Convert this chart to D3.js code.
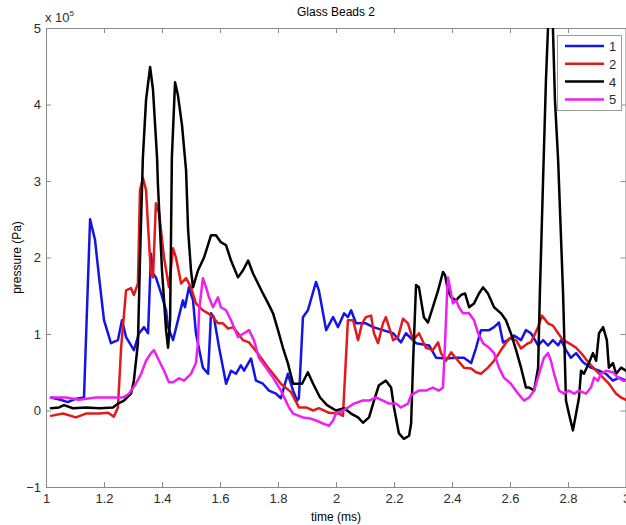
<!DOCTYPE html>
<html>
<head>
<meta charset="utf-8">
<script src="https://cdn.jsdelivr.net/npm/d3@7/dist/d3.min.js"></script>
<style>
  html, body { margin: 0; padding: 0; background: #fff; }
  svg { display: block; font-family: "Liberation Sans", Arial, sans-serif; }
</style>
</head>
<body>
<svg id="chart" width="626" height="525"></svg>
<script>
// Pressure traces from four gauges, time in ms, pressure in units of 1e5 Pa
const series1 = [
  [1.017,0.17],[1.05,0.14],[1.075,0.11],[1.1,0.15],[1.131,0.17],[1.152,2.50],[1.169,2.23],[1.183,1.74],
  [1.200,1.18],[1.224,0.88],[1.248,0.92],[1.262,1.18],[1.276,0.96],[1.303,0.79],[1.321,1.01],[1.338,1.09],
  [1.352,1.01],[1.362,2.05],[1.369,1.79],[1.379,1.74],[1.397,1.53],[1.414,1.31],[1.421,1.09],[1.438,0.92],
  [1.472,1.44],[1.479,1.35],[1.493,1.61],[1.507,1.44],[1.517,1.01],[1.541,0.56],[1.559,0.48],[1.569,1.27],
  [1.579,1.22],[1.597,0.82],[1.621,0.35],[1.638,0.52],[1.655,0.48],[1.672,0.59],[1.683,0.52],[1.707,0.68],
  [1.724,0.39],[1.748,0.35],[1.769,0.26],[1.793,0.22],[1.810,0.16],[1.824,0.35],[1.834,0.48],[1.852,0.26],
  [1.866,0.13],[1.872,0.16],[1.886,1.22],[1.903,1.31],[1.931,1.68],[1.941,1.57],[1.966,1.05],[1.990,1.22],
  [2.007,1.09],[2.028,1.27],[2.041,1.22],[2.052,1.31],[2.069,1.14],[2.103,1.14],[2.128,1.09],[2.162,1.05],
  [2.197,1.01],[2.224,0.89],[2.241,1.01],[2.276,0.88],[2.321,0.85],[2.345,0.69],[2.379,0.68],[2.414,0.69],
  [2.441,0.69],[2.466,0.62],[2.483,0.82],[2.500,1.05],[2.528,1.05],[2.545,1.09],[2.562,1.15],[2.576,0.89],
  [2.593,0.92],[2.614,0.98],[2.638,0.92],[2.655,1.05],[2.672,1.01],[2.697,0.85],[2.714,0.92],[2.731,0.85],
  [2.748,0.92],[2.766,0.85],[2.776,0.92],[2.793,0.79],[2.810,0.69],[2.828,0.75],[2.852,0.63],[2.879,0.56],
  [2.907,0.52],[2.931,0.48],[2.955,0.39],[2.976,0.43],[3.000,0.39]
];

const series2 = [
  [1.017,-0.07],[1.059,-0.04],[1.103,-0.09],[1.138,-0.04],[1.183,-0.04],[1.214,-0.03],[1.234,-0.08],
  [1.248,0.04],[1.259,0.82],[1.276,1.57],[1.293,1.60],[1.303,1.51],[1.317,1.66],[1.324,2.88],[1.334,3.04],
  [1.345,2.88],[1.352,2.40],[1.362,1.79],[1.369,1.74],[1.379,2.71],[1.390,2.58],[1.407,2.00],[1.424,1.61],
  [1.438,2.12],[1.448,2.00],[1.466,1.66],[1.483,1.73],[1.500,1.61],[1.517,1.40],[1.541,1.31],[1.559,1.27],
  [1.576,1.22],[1.593,1.14],[1.610,1.14],[1.628,1.07],[1.645,1.09],[1.662,1.01],[1.679,0.92],[1.700,0.89],
  [1.717,0.81],[1.741,0.69],[1.766,0.56],[1.783,0.48],[1.810,0.35],[1.845,0.24],[1.872,0.04],[1.897,0.04],
  [1.921,0.00],[1.941,0.03],[1.976,-0.03],[2.010,-0.04],[2.024,-0.07],[2.041,1.18],[2.059,1.18],[2.076,0.92],
  [2.090,1.14],[2.103,1.22],[2.121,1.24],[2.131,1.01],[2.145,0.88],[2.162,1.14],[2.172,1.22],[2.197,0.92],
  [2.214,0.96],[2.231,1.20],[2.248,1.14],[2.266,0.92],[2.286,1.01],[2.310,0.82],[2.334,0.79],[2.352,0.89],
  [2.362,0.75],[2.379,0.65],[2.397,0.76],[2.421,0.65],[2.441,0.56],[2.466,0.55],[2.483,0.50],[2.500,0.48],
  [2.524,0.56],[2.545,0.65],[2.569,0.79],[2.597,0.94],[2.621,0.92],[2.638,0.81],[2.662,0.88],[2.672,0.89],
  [2.697,1.09],[2.710,1.24],[2.731,1.14],[2.748,1.11],[2.766,1.01],[2.783,0.92],[2.803,0.88],[2.828,0.82],
  [2.852,0.72],[2.872,0.62],[2.897,0.52],[2.921,0.43],[2.941,0.35],[2.966,0.22],[2.983,0.17],[3.000,0.14]
];

const series4 = [
  [1.017,0.03],[1.045,0.04],[1.062,0.07],[1.093,0.03],[1.138,0.04],[1.183,0.03],[1.231,0.04],[1.248,0.09],
  [1.269,0.13],[1.293,0.22],[1.303,0.39],[1.317,0.88],[1.324,1.96],[1.334,3.30],[1.345,4.06],[1.359,4.49],
  [1.369,4.19],[1.383,3.30],[1.386,2.95],[1.400,1.83],[1.414,1.05],[1.421,0.82],[1.428,1.18],[1.434,3.30],
  [1.445,4.29],[1.455,4.12],[1.469,3.73],[1.483,3.14],[1.490,2.36],[1.500,1.83],[1.507,1.61],[1.524,1.83],
  [1.545,2.00],[1.569,2.29],[1.586,2.29],[1.603,2.20],[1.621,2.16],[1.638,1.96],[1.662,1.74],[1.679,1.83],
  [1.697,1.96],[1.714,1.79],[1.731,1.66],[1.748,1.53],[1.766,1.40],[1.783,1.27],[1.800,1.05],[1.817,0.82],
  [1.834,0.62],[1.852,0.35],[1.883,0.35],[1.903,0.50],[1.921,0.35],[1.945,0.17],[1.969,0.07],[2.000,0.00],
  [2.028,0.03],[2.052,-0.04],[2.076,-0.09],[2.093,-0.16],[2.114,-0.09],[2.131,0.13],[2.148,0.33],[2.172,0.39],
  [2.190,0.30],[2.200,0.04],[2.217,-0.30],[2.234,-0.37],[2.252,-0.33],[2.259,-0.17],[2.266,0.65],[2.276,1.64],
  [2.286,1.61],[2.303,1.22],[2.317,1.15],[2.334,1.35],[2.352,1.57],[2.369,1.81],[2.376,1.77],[2.386,1.57],
  [2.397,1.48],[2.414,1.44],[2.431,1.51],[2.445,1.53],[2.459,1.35],[2.476,1.40],[2.493,1.53],[2.507,1.61],
  [2.524,1.53],[2.545,1.35],[2.569,1.27],[2.586,1.18],[2.603,1.01],[2.621,0.79],[2.638,0.56],[2.655,0.30],
  [2.666,0.30],[2.683,0.26],[2.697,0.56],[2.703,1.53],[2.714,3.01],[2.724,4.32],[2.731,5.00],[2.740,5.40],
  [2.748,5.00],[2.755,4.06],[2.766,3.27],[2.783,1.53],[2.793,0.13],[2.803,-0.04],[2.817,-0.26],[2.828,-0.04],
  [2.838,0.17],[2.845,0.52],[2.855,0.48],[2.872,0.62],[2.886,0.75],[2.897,0.65],[2.907,1.01],[2.921,1.09],
  [2.934,0.92],[2.941,0.56],[2.955,0.62],[2.966,0.48],[2.983,0.56],[3.000,0.52]
];

const series5 = [
  [1.017,0.17],[1.069,0.17],[1.114,0.14],[1.172,0.17],[1.231,0.17],[1.266,0.17],[1.286,0.22],[1.310,0.35],
  [1.328,0.48],[1.345,0.65],[1.362,0.75],[1.372,0.79],[1.390,0.65],[1.407,0.52],[1.424,0.37],[1.438,0.37],
  [1.459,0.42],[1.476,0.39],[1.500,0.48],[1.517,0.62],[1.524,0.88],[1.528,1.31],[1.541,1.73],[1.552,1.61],
  [1.562,1.48],[1.576,1.35],[1.593,1.48],[1.603,1.35],[1.621,1.31],[1.638,1.18],[1.662,0.96],[1.683,1.01],
  [1.700,1.05],[1.717,0.92],[1.734,0.69],[1.759,0.56],[1.783,0.43],[1.810,0.26],[1.838,0.04],[1.852,-0.04],
  [1.886,-0.09],[1.907,-0.10],[1.931,-0.13],[1.955,-0.17],[1.976,-0.20],[1.990,-0.13],[2.000,-0.04],
  [2.024,0.00],[2.041,0.04],[2.062,0.09],[2.093,0.13],[2.114,0.13],[2.138,0.17],[2.162,0.13],[2.183,0.09],
  [2.207,0.09],[2.224,0.04],[2.248,0.09],[2.259,0.20],[2.286,0.26],[2.310,0.26],[2.334,0.30],[2.355,0.26],
  [2.369,0.30],[2.376,0.88],[2.383,1.53],[2.386,1.74],[2.393,1.61],[2.403,1.40],[2.414,1.44],[2.424,1.35],
  [2.438,1.27],[2.459,1.27],[2.476,1.18],[2.490,1.01],[2.507,0.88],[2.528,0.82],[2.545,0.75],[2.562,0.56],
  [2.579,0.43],[2.603,0.35],[2.628,0.22],[2.648,0.13],[2.666,0.17],[2.683,0.26],[2.700,0.48],[2.717,0.69],
  [2.731,0.75],[2.741,0.65],[2.752,0.48],[2.769,0.26],[2.786,0.22],[2.803,0.26],[2.821,0.22],[2.838,0.26],
  [2.862,0.22],[2.879,0.30],[2.890,0.43],[2.903,0.39],[2.914,0.48],[2.931,0.52],[2.955,0.50],[2.972,0.43],
  [2.990,0.39],[3.000,0.39]
];

const seriesNames = ["1", "2", "4", "5"];
const seriesColors = ["#1414e6", "#e41a1a", "#000000", "#f01ef0"];
const seriesData = [series1, series2, series4, series5];

const xTicks = [1, 1.2, 1.4, 1.6, 1.8, 2, 2.2, 2.4, 2.6, 2.8, 3];
const yTicks = [-1, 0, 1, 2, 3, 4, 5];

const chartTitle = "Glass Beads 2";
const xLabel = "time (ms)";
const yLabel = "pressure (Pa)";

const svg = d3.select("#chart");
const plot = { left: 46, right: 626, top: 28, bottom: 487 };

const x = d3.scaleLinear().domain([1, 3]).range([plot.left, plot.right]);
const y = d3.scaleLinear().domain([-1, 5]).range([plot.bottom, plot.top]);

const axisColor = "#8a8a8a";
const textColor = "#2b2b2b";

svg.append("defs").append("clipPath").attr("id", "plotClip")
  .append("rect")
  .attr("x", plot.left).attr("y", plot.top)
  .attr("width", plot.right - plot.left).attr("height", plot.bottom - plot.top);

// axes with inward ticks on all four sides (box style)
function styleAxis(g, showText) {
  g.select(".domain").attr("stroke", axisColor).attr("stroke-width", 1);
  g.selectAll(".tick line").attr("stroke", axisColor);
  g.selectAll(".tick text").attr("fill", textColor).style("font-size", "13px")
    .style("font-family", "'Liberation Sans', Arial, sans-serif")
    .attr("display", showText ? null : "none");
}

svg.append("g").attr("transform", `translate(0,${plot.bottom})`)
  .call(d3.axisBottom(x).tickValues(xTicks).tickFormat(d3.format("~g"))
        .tickSizeInner(-5).tickSizeOuter(0).tickPadding(7))
  .call(g => styleAxis(g, true));

svg.append("g").attr("transform", `translate(0,${plot.top})`)
  .call(d3.axisTop(x).tickValues(xTicks).tickSizeInner(-5).tickSizeOuter(0))
  .call(g => styleAxis(g, false));

svg.append("g").attr("transform", `translate(${plot.left},0)`)
  .call(d3.axisLeft(y).tickValues(yTicks).tickFormat(d3.format("~g"))
        .tickSizeInner(-5).tickSizeOuter(0).tickPadding(5))
  .call(g => styleAxis(g, true));

svg.append("g").attr("transform", `translate(${plot.right - 0.5},0)`)
  .call(d3.axisRight(y).tickValues(yTicks).tickSizeInner(-5).tickSizeOuter(0))
  .call(g => styleAxis(g, false));

// traces
const line = d3.line().x(d => x(d[0])).y(d => y(d[1]));
const traces = svg.append("g").attr("clip-path", "url(#plotClip)");
seriesData.forEach((s, i) => {
  traces.append("path")
    .datum(s)
    .attr("d", line)
    .attr("fill", "none")
    .attr("stroke", seriesColors[i])
    .attr("stroke-width", 2.5)
    .attr("stroke-linejoin", "round")
    .attr("stroke-linecap", "round");
});

// exponent marker
const expo = svg.append("text").attr("x", 45).attr("y", 22)
  .attr("fill", textColor).style("font-size", "13px");
expo.append("tspan").text("x 10");
expo.append("tspan").attr("dy", -6).style("font-size", "8px").text("5");

// title and axis labels
svg.append("text").attr("x", (plot.left + plot.right) / 2).attr("y", 16)
  .attr("text-anchor", "middle").attr("fill", "#000").style("font-size", "12px").text(chartTitle);

svg.append("text").attr("x", (plot.left + plot.right) / 2).attr("y", 521)
  .attr("text-anchor", "middle").attr("fill", "#000").style("font-size", "12px").text(xLabel);

svg.append("text")
  .attr("transform", `translate(21,${(plot.top + plot.bottom) / 2}) rotate(-90)`)
  .attr("text-anchor", "middle").attr("fill", "#000").style("font-size", "12px").text(yLabel);

// legend
const legend = svg.append("g").attr("transform", "translate(557,35)");
legend.append("rect").attr("x", 0.5).attr("y", 0.5).attr("width", 64).attr("height", 75)
  .attr("fill", "#fff").attr("stroke", "#9a9a9a").attr("stroke-width", 1);
seriesNames.forEach((name, i) => {
  const yy = 11 + i * 17.8;
  legend.append("line").attr("x1", 8).attr("x2", 47).attr("y1", yy).attr("y2", yy)
    .attr("stroke", seriesColors[i]).attr("stroke-width", 2.5);
  legend.append("text").attr("x", 52).attr("y", yy + 5).attr("fill", textColor)
    .style("font-size", "13px").text(name);
});
</script>
</body>
</html>
